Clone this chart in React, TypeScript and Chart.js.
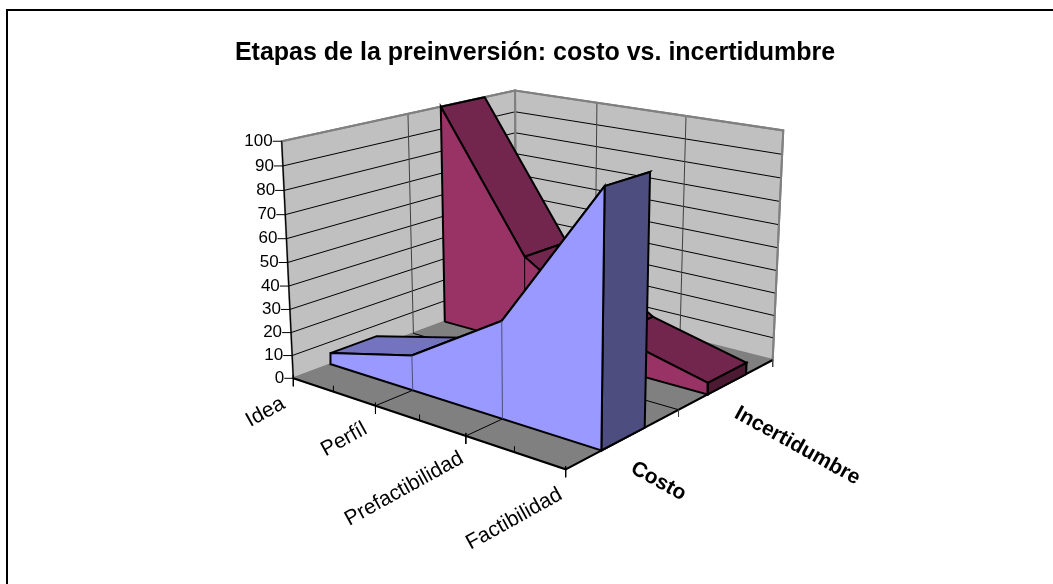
import React, { useEffect, useRef } from "react";
import { Chart, registerables } from "chart.js";

Chart.register(...registerables);

const title = "Etapas de la preinversión: costo vs. incertidumbre";
const categories = ["Idea", "Perfíl", "Prefactibilidad", "Factibilidad"];
const seriesNames = ["Costo", "Incertidumbre"];
const costo = [5, 15, 40, 100];
const incertidumbre = [100, 40, 15, 5];
const valueTicks = [0, 10, 20, 30, 40, 50, 60, 70, 80, 90, 100];
const seriesDepth = [
  [0.148, 0.34],
  [0.645, 0.85],
];

// Scene geometry: floor corners and the vanishing point of the vertical axis
const floor = { A: [293.3, 378.3], B: [565.7, 469.3], C: [772.7, 360], D: [516, 295] };
const vanish = [540, 5421];
const heightGain = -0.0449;
const categoryLabelOffset = [[-10, 24], [-10, 22], [-4, 21], [-5, 24]];

function floorHomography() {
  const { A, B, C, D } = floor;
  // unit square (u,w): (0,0)=A (1,0)=B (1,1)=C (0,1)=D
  const dx1 = B[0] - C[0], dx2 = D[0] - C[0], sx = A[0] - B[0] + C[0] - D[0];
  const dy1 = B[1] - C[1], dy2 = D[1] - C[1], sy = A[1] - B[1] + C[1] - D[1];
  const det = dx1 * dy2 - dx2 * dy1;
  const g = (sx * dy2 - dx2 * sy) / det;
  const h = (dx1 * sy - sx * dy1) / det;
  return {
    a: B[0] - A[0] + g * B[0], b: D[0] - A[0] + h * D[0], c: A[0],
    d: B[1] - A[1] + g * B[1], e: D[1] - A[1] + h * D[1], f: A[1],
    g, h,
  };
}
const H = floorHomography();

function project(u: number, w: number, v: number) {
  const X = H.a * u + H.b * w + H.c;
  const Y = H.d * u + H.e * w + H.f;
  const W = H.g * u + H.h * w + 1;
  const k = (heightGain * v) / 100;
  return { x: (X + k * vanish[0]) / (W + k), y: (Y + k * vanish[1]) / (W + k) };
}

const n = categories.length - 1;
const U = (i: number) => i / n;

type Ds = any;
const sets: Ds[] = [];
function poly(points: { x: number; y: number }[], fillColor: string | null, stroke: string, lw = 1) {
  sets.push({
    type: "line",
    data: points,
    parsing: false,
    normalized: false,
    clip: false,
    pointRadius: 0,
    pointHoverRadius: 0,
    tension: 0,
    borderColor: stroke,
    borderWidth: lw,
    backgroundColor: fillColor ?? "transparent",
    fill: fillColor ? "shape" : false,
    borderJoinStyle: "miter",
  });
}
const closed = (p: { x: number; y: number }[]) => [...p, p[0]];

// page frame of the picture
poly([{ x: 7, y: 584 }, { x: 7, y: 10 }, { x: 1053, y: 10 }], null, "#000000", 2);

// walls and floor
const WALL = "#C0C0C0", FLOOR = "#808080", EDGE = "#808080", GRID = "#000000";
const wallLeft = [project(0, 0, 0), project(0, 1, 0), project(0, 1, 100), project(0, 0, 100)];
const wallRight = [project(0, 1, 0), project(1, 1, 0), project(1, 1, 100), project(0, 1, 100)];
const floorPoly = [project(0, 0, 0), project(1, 0, 0), project(1, 1, 0), project(0, 1, 0)];
poly(closed(wallLeft), WALL, EDGE, 2);
poly(closed(wallRight), WALL, EDGE, 2);
poly(closed(floorPoly), FLOOR, FLOOR, 1);

valueTicks.slice(1, -1).forEach((t) => {
  poly([project(0, 0, t), project(0, 1, t), project(1, 1, t)], null, GRID, 1);
});
poly([project(0, 0.5, 0), project(0, 0.5, 100)], null, "#404040", 1);
[1, 2].forEach((i) => poly([project(U(i), 1, 0), project(U(i), 1, 100)], null, "#404040", 1));
poly([project(0, 1, 0), project(0, 1, 100)], null, EDGE, 2);

// floor grid lines
[1, 2].forEach((i) => poly([project(U(i), 0, 0), project(U(i), 1, 0)], null, GRID, 1));
poly([project(0, 0.5, 0), project(1, 0.5, 0)], null, GRID, 1);
// axis edges
poly([project(0, 0, 100), project(0, 1, 100), project(1, 1, 100), project(1, 1, 0)], null, EDGE, 2);
poly([project(0, 0, 0), project(1, 0, 0), project(1, 1, 0)], null, GRID, 2);
poly([project(0, 0, 0), project(0, 0, 100)], null, GRID, 1.2);

// axis tick marks (extrapolated a little past the floor edge)
valueTicks.forEach((t) => {
  const p = project(0, 0, t);
  poly([p, { x: p.x - 9, y: p.y }], null, GRID, 1);
});
categories.forEach((_, i) => {
  const p = project(U(i), 0, 0);
  poly([{ x: p.x, y: p.y - 3 }, { x: p.x, y: p.y + 8 }], null, GRID, 1);
  if (i < n) {
    const q = project(U(i) + U(1) / 2, 0, 0);
    poly([q, { x: q.x, y: q.y - 6 }], null, GRID, 1);
  }
});
[0.5, 1].forEach((w) => {
  const p = project(1, w, 0);
  poly([p, { x: p.x, y: p.y + 7 }], null, "#404040", 1);
});

function drawSeries(values: number[], depth: number[], front: string, top: string, side: string, divider: string) {
  const [w0, w1] = depth;
  values.forEach((val, i) => {
    if (i === values.length - 1) return;
    const next = values[i + 1];
    poly(closed([project(U(i), w0, val), project(U(i + 1), w0, next), project(U(i + 1), w1, next), project(U(i), w1, val)]), top, "#000000", 2);
  });
  const last = values.length - 1;
  poly(closed([project(1, w0, values[last]), project(1, w1, values[last]), project(1, w1, 0), project(1, w0, 0)]), side, "#000000", 2);
  const outline = [
    project(0, w0, 0),
    ...values.map((val, i) => project(U(i), w0, val)),
    project(1, w0, 0),
  ];
  poly(closed(outline), front, "#000000", 2);
  values.forEach((val, i) => {
    if (i === 0 || i === last) return;
    poly([project(U(i), w0, 0), project(U(i), w0, val)], null, divider, 1);
  });
}

drawSeries(incertidumbre, seriesDepth[1], "#993366", "#73264D", "#4D1A33", "#000000");
drawSeries(costo, seriesDepth[0], "#9999FF", "#7373BF", "#4D4D80", "#4D4D80");

const textPlugin = {
  id: "sceneText",
  afterDatasetsDraw(chart: Chart) {
    const ctx = chart.ctx;
    const x = chart.scales.x, y = chart.scales.y;
    const at = (p: { x: number; y: number }) => ({ x: x.getPixelForValue(p.x), y: y.getPixelForValue(p.y) });
    ctx.save();
    ctx.fillStyle = "#000";
    ctx.font = "bold 25px 'Liberation Sans'";
    ctx.textAlign = "center";
    ctx.textBaseline = "middle";
    ctx.fillText(title, 535, 53);

    ctx.font = "17px 'Liberation Sans'";
    ctx.textAlign = "right";
    valueTicks.forEach((t) => {
      const p = at(project(0, 0, t));
      ctx.fillText(String(t), p.x - 9, p.y);
    });
    ctx.font = "21px 'Liberation Sans'";
    categories.forEach((c, i) => {
      const p = at(project(U(i), 0, 0));
      ctx.save();
      ctx.translate(p.x + categoryLabelOffset[i][0], p.y + categoryLabelOffset[i][1]);
      ctx.rotate((-29 * Math.PI) / 180);
      ctx.textAlign = "right";
      ctx.fillText(c, 0, 0);
      ctx.restore();
    });
    ctx.font = "bold 21px 'Liberation Sans'";
    seriesNames.forEach((s, i) => {
      const p = at(project(1, (seriesDepth[i][0] + seriesDepth[i][1]) / 2, 0));
      ctx.save();
      ctx.translate(p.x + 9, p.y + 28);
      ctx.rotate((29 * Math.PI) / 180);
      ctx.textAlign = "left";
      ctx.fillText(s, 0, 0);
      ctx.restore();
    });
    ctx.restore();
  },
};

export default function App() {
  const ref = useRef<HTMLCanvasElement>(null);
  useEffect(() => {
    document.body.style.margin = "0";
    const chart = new Chart(ref.current!, {
      type: "line",
      data: { datasets: sets.map((s, i) => ({ ...s, order: sets.length - i })) },
      options: {
        animation: false,
        responsive: false,
        layout: { padding: 0 },
        scales: {
          x: { type: "linear", min: 0, max: 1053, display: false },
          y: { type: "linear", min: 0, max: 584, reverse: true, display: false },
        },
        plugins: { legend: { display: false }, tooltip: { enabled: false } },
      },
      plugins: [textPlugin],
    });
    return () => chart.destroy();
  }, []);
  return (
    <div style={{ width: 1053, height: 584 }}>
      <canvas ref={ref} width={1053} height={584} style={{ display: "block" }} />
    </div>
  );
}
